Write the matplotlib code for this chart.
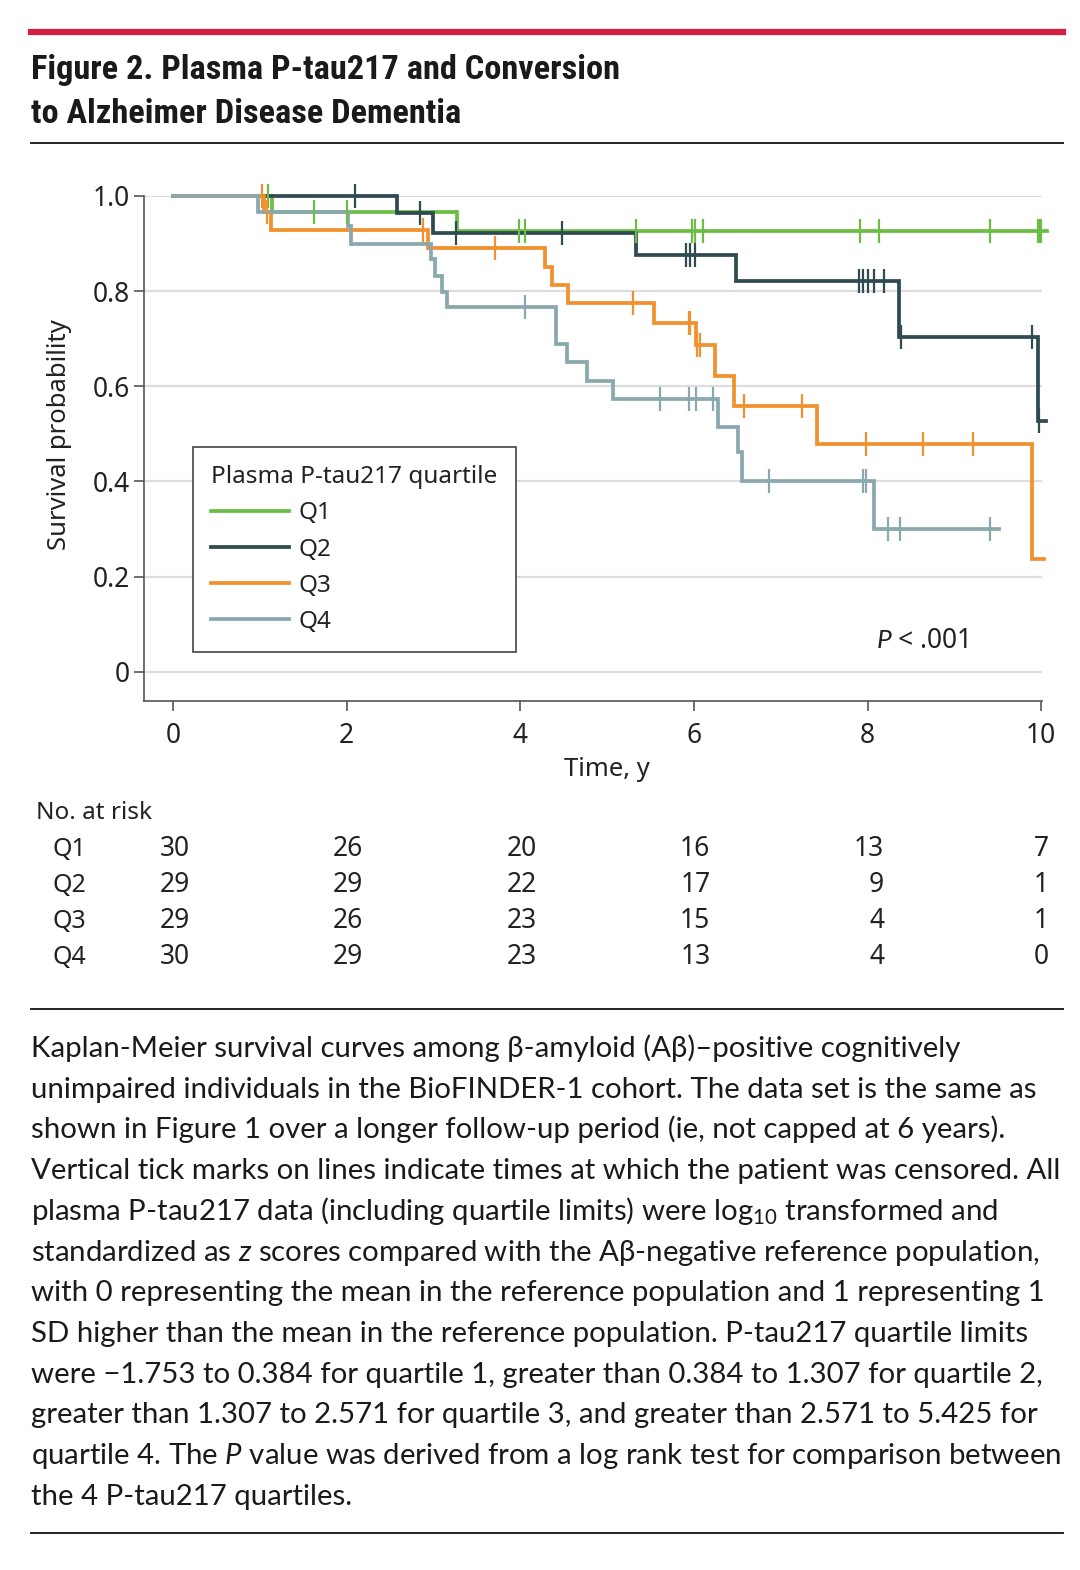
import matplotlib
matplotlib.use("Agg")
import matplotlib.pyplot as plt
import numpy as np
from matplotlib import font_manager
from matplotlib.lines import Line2D
from matplotlib.transforms import blended_transform_factory

# ------------------------------------------------------------------ data
groups = ["Q1", "Q2", "Q3", "Q4"]

q1_event_t = [1.14, 3.27]
q1_surv = [0.967, 0.926]
q1_censor = [1.09, 1.62, 2.00, 3.98, 4.06, 5.33, 5.98, 6.01, 6.10, 7.91, 8.13,
             9.41, 9.96, 9.98, 10.00]
q1_end = 10.07

q2_event_t = [2.58, 3.00, 5.33, 6.49, 8.36, 9.96]
q2_surv = [0.965, 0.922, 0.876, 0.822, 0.704, 0.528]
q2_censor = [2.10, 2.84, 3.26, 4.48, 5.91, 5.96, 6.01, 7.90, 7.95, 8.01, 8.07,
             8.19, 8.39, 9.90, 9.97]
q2_end = 10.06

q3_event_t = [1.05, 1.13, 2.94, 4.29, 4.36, 4.55, 5.54, 6.03, 6.24, 6.46, 7.42, 9.89]
q3_surv = [0.966, 0.929, 0.890, 0.850, 0.813, 0.775, 0.733, 0.686, 0.622, 0.559,
           0.479, 0.237]
q3_censor = [1.02, 1.08, 2.88, 3.71, 5.30, 5.94, 5.96, 6.04, 6.07, 6.58, 7.24,
             7.98, 8.64, 9.22]
q3_end = 10.03

q4_event_t = [0.98, 2.02, 2.05, 2.97, 3.02, 3.10, 3.16, 4.41, 4.54, 4.77, 5.07,
              6.28, 6.51, 6.56, 8.07]
q4_surv = [0.967, 0.936, 0.899, 0.867, 0.832, 0.799, 0.767, 0.689, 0.651, 0.612,
           0.574, 0.515, 0.461, 0.400, 0.300]
q4_censor = [4.05, 5.61, 5.94, 6.03, 6.22, 6.87, 7.95, 7.98, 8.24, 8.38, 9.41]
q4_end = 9.51

risk_times = [0, 2, 4, 6, 8, 10]
risk_q1 = [30, 26, 20, 16, 13, 7]
risk_q2 = [29, 29, 22, 17, 9, 1]
risk_q3 = [29, 26, 23, 15, 4, 1]
risk_q4 = [30, 29, 23, 13, 4, 0]

x_ticks = [0, 2, 4, 6, 8, 10]
x_ticklabels = ["0", "2", "4", "6", "8", "10"]
y_ticks = [0, 0.2, 0.4, 0.6, 0.8, 1.0]
y_ticklabels = ["0", "0.2", "0.4", "0.6", "0.8", "1.0"]

title_lines = ["Figure 2. Plasma P-tau217 and Conversion",
               "to Alzheimer Disease Dementia"]
legend_title = "Plasma P-tau217 quartile"
p_text = r"$\mathit{P}$ < .001"
x_label = "Time, y"
y_label = "Survival probability"
risk_header = "No. at risk"

caption_lines = [
    "Kaplan-Meier survival curves among \u03b2-amyloid (A\u03b2)\u2013positive cognitively",
    "unimpaired individuals in the BioFINDER-1 cohort. The data set is the same as",
    "shown in Figure 1 over a longer follow-up period (ie, not capped at 6 years).",
    "Vertical tick marks on lines indicate times at which the patient was censored. All",
    r"plasma P-tau217 data (including quartile limits) were log$_{10}$ transformed and",
    r"standardized as $\mathit{z}$ scores compared with the A" + "\u03b2" + "-negative reference population,",
    "with 0 representing the mean in the reference population and 1 representing 1",
    "SD higher than the mean in the reference population. P-tau217 quartile limits",
    "were \u22121.753 to 0.384 for quartile 1, greater than 0.384 to 1.307 for quartile 2,",
    "greater than 1.307 to 2.571 for quartile 3, and greater than 2.571 to 5.425 for",
    r"quartile 4. The $\mathit{P}$ value was derived from a log rank test for comparison between",
    "the 4 P-tau217 quartiles.",
]

# ------------------------------------------------------------------ style
W, H, DPI = 1080, 1570, 100
colors = ["#6cbd45", "#2f4b50", "#f0912d", "#8aa8ae"]
TXT = "#222222"
FS_NUM = 19
FS_WORD = 18.5
FS_LEG = 17.5

available = {f.name for f in font_manager.fontManager.ttflist}


def pick(*names):
    for n in names:
        if n in available:
            return n
    return "DejaVu Sans"


chart_font = pick("Noto Sans", "Open Sans", "DejaVu Sans")
title_font = pick("Liberation Sans Narrow", "Roboto Condensed", "Lato", "Roboto")
caption_font = pick("Lato", "Roboto", "Noto Sans")

plt.rcParams["font.family"] = [chart_font, "DejaVu Sans"]
plt.rcParams["mathtext.fontset"] = "custom"
plt.rcParams["mathtext.rm"] = caption_font
plt.rcParams["mathtext.it"] = caption_font + ":italic"
plt.rcParams["mathtext.bf"] = caption_font + ":bold"

fig = plt.figure(figsize=(W / DPI, H / DPI), dpi=DPI)
fig.patch.set_facecolor("white")


def fx(px):
    return px / W


def fy(py):
    return 1 - py / H


ax_l, ax_r, ax_t, ax_b = 143.5, 1042, 196, 701
ax = fig.add_axes([fx(ax_l), fy(ax_b), (ax_r - ax_l) / W, (ax_b - ax_t) / H])
ax.set_xlim(-0.34, 10.01)
ax.set_ylim(-0.0615, 1.0)

for s in ["top", "right"]:
    ax.spines[s].set_visible(False)
for s in ["left", "bottom"]:
    ax.spines[s].set_color("#555555")
    ax.spines[s].set_linewidth(1.2)

ax.set_xticks(x_ticks)
ax.set_xticklabels(x_ticklabels)
ax.set_yticks(y_ticks)
ax.set_yticklabels(y_ticklabels)
ax.tick_params(axis="both", colors="#555555", labelcolor=TXT,
               labelsize=FS_NUM, length=7, width=1.2)
ax.tick_params(axis="x", pad=8)
ax.tick_params(axis="y", pad=3)
ax.grid(axis="y", color="#dddddd", linewidth=1.6)
ax.set_axisbelow(True)

series = [
    (q1_event_t, q1_surv, q1_censor, q1_end),
    (q2_event_t, q2_surv, q2_censor, q2_end),
    (q3_event_t, q3_surv, q3_censor, q3_end),
    (q4_event_t, q4_surv, q4_censor, q4_end),
]
for (et, sv, cs, end), col in zip(series, colors):
    xs = [0] + list(et) + [end]
    ys = [1.0] + list(sv) + [sv[-1]]
    ax.step(xs, ys, where="post", color=col, lw=2.7, clip_on=False,
            solid_joinstyle="miter", zorder=3)
    levels = np.array([1.0] + list(sv))
    idx = np.searchsorted(np.array(et), np.array(cs), side="right")
    ax.plot(cs, levels[idx], ls="none", marker="|", ms=17, mew=1.6,
            color=col, clip_on=False, zorder=4)

handles = [Line2D([0], [0], color=c, lw=2.7) for c in colors]
x0 = (193 - ax_l) / (ax_r - ax_l)
ytop = (ax_b - 447) / (ax_b - ax_t)
leg = ax.legend(handles, groups, title=legend_title, loc="upper left",
                bbox_to_anchor=(x0, ytop), bbox_transform=ax.transAxes,
                borderaxespad=0, frameon=True, fancybox=False,
                edgecolor="#444444", framealpha=1, fontsize=FS_LEG,
                title_fontsize=FS_LEG, handlelength=3.2, handletextpad=0.4,
                labelspacing=0.5, borderpad=0.75)
leg._legend_box.align = "left"
leg.get_frame().set_linewidth(1.2)
leg.set_zorder(5)
for t in leg.get_texts():
    t.set_color(TXT)
leg.get_title().set_color(TXT)

fig.text(fx(922), fy(641), p_text, ha="center", va="center", fontsize=FS_NUM,
         color=TXT)
fig.text(fx(607), fy(770), x_label, ha="center", va="center", fontsize=FS_WORD,
         color=TXT)
fig.text(fx(60), fy(435), y_label, ha="center", va="center", rotation=90,
         fontsize=FS_WORD, color=TXT)

# number at risk table
tr = blended_transform_factory(ax.transData, fig.transFigure)
fig.text(fx(36), fy(813), risk_header, ha="left", va="center", fontsize=17.5,
         color=TXT)
risk_rows = [risk_q1, risk_q2, risk_q3, risk_q4]
row_y = [849, 885, 921, 957]
for g, row, yy in zip(groups, risk_rows, row_y):
    fig.text(fx(52), fy(yy), g, ha="left", va="center", fontsize=18,
             color=TXT)
    for t, n in zip(risk_times, row):
        if t == risk_times[-1]:
            ax.text(t, fy(yy), str(n), transform=tr, ha="center", va="center",
                    fontsize=FS_NUM, color=TXT)
        else:
            ax.text(t + 0.19, fy(yy), str(n), transform=tr, ha="right",
                    va="center", fontsize=FS_NUM, color=TXT)

# rules
fig.add_artist(Line2D([fx(31), fx(1063)], [fy(32), fy(32)], color="#d21f3c",
                      lw=4.5, transform=fig.transFigure))
for yy in [143, 1009, 1533]:
    fig.add_artist(Line2D([fx(31), fx(1063)], [fy(yy), fy(yy)],
                          color="#222222", lw=1.4, transform=fig.transFigure))

renderer = fig.canvas.get_renderer()


def fit_size(txt, target_w):
    bb = txt.get_window_extent(renderer=renderer)
    return txt.get_fontsize() * target_w / bb.width


# title
t1 = fig.text(fx(31), fy(79), title_lines[0], ha="left", va="baseline",
              fontsize=26, fontweight="bold", family=[title_font, "DejaVu Sans"],
              color="#1a1a1a")
ts = fit_size(t1, 590)
t1.set_fontsize(ts)
fig.text(fx(31), fy(123), title_lines[1], ha="left", va="baseline",
         fontsize=ts, fontweight="bold", family=[title_font, "DejaVu Sans"],
         color="#1a1a1a")

# caption
c1 = fig.text(fx(31), fy(1057), caption_lines[0], ha="left", va="baseline",
              fontsize=20, family=[caption_font, "DejaVu Sans"], color="#1a1a1a")
cs_ = fit_size(c1, 931)
c1.set_fontsize(cs_)
for i, line in enumerate(caption_lines[1:], start=1):
    fig.text(fx(31), fy(1057 + i * 40.7), line, ha="left", va="baseline",
             fontsize=cs_, family=[caption_font, "DejaVu Sans"], color="#1a1a1a")

fig.savefig("out.png", dpi=DPI, facecolor="white")
